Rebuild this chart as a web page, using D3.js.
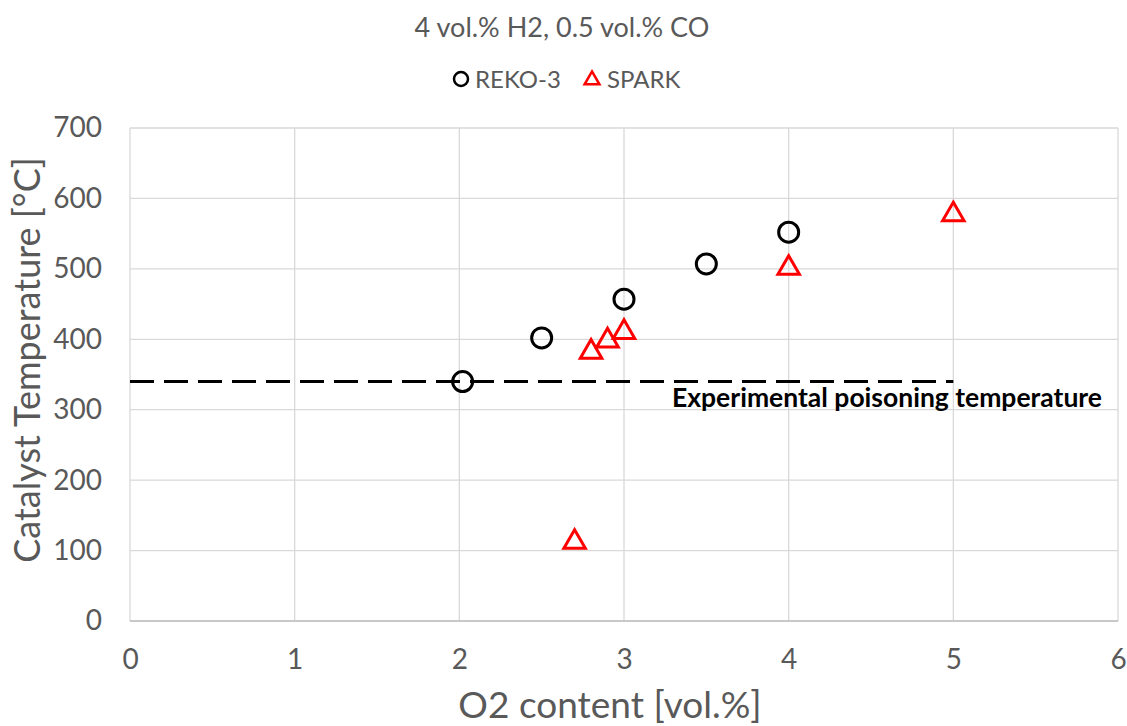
<!DOCTYPE html>
<html><head><meta charset="utf-8">
<script src="https://cdn.jsdelivr.net/npm/d3@7"></script>
<style>body{margin:0;background:#fff;}svg{display:block;}</style>
</head><body><svg id="c" width="1127" height="726"></svg>
<script>
const rekoX = [2.02, 2.5, 3.0, 3.5, 4.0];
const rekoY = [340, 402, 457, 507, 552];
const sparkX = [2.7, 2.8, 2.9, 3.0, 4.0, 5.0];
const sparkY = [112, 382, 398, 410, 501, 577];
const xTicks = [0,1,2,3,4,5,6];
const yTicks = [0,100,200,300,400,500,600,700];
const poisonTemp = 340, poisonX = [0, 5];
const title = "4 vol.% H2, 0.5 vol.% CO";
const seriesNames = ["REKO-3", "SPARK"];

const svg = d3.select("#c");
const font = "Lato, 'Open Sans', sans-serif";
const L=130, R=1118, T=128, B=621;
const x = d3.scaleLinear().domain([0,6]).range([L,R]);
const y = d3.scaleLinear().domain([0,700]).range([B,T]);
const grey="#595959", grid="#d9d9d9";

svg.append("g").selectAll("line").data(yTicks).join("line")
  .attr("x1",L).attr("x2",R).attr("y1",d=>y(d)).attr("y2",d=>y(d))
  .attr("stroke",grid).attr("stroke-width",1.3);
svg.append("g").selectAll("line").data(xTicks).join("line")
  .attr("y1",T).attr("y2",B).attr("x1",d=>x(d)).attr("x2",d=>x(d))
  .attr("stroke",grid).attr("stroke-width",1.3);

const xa = svg.append("g").attr("transform",`translate(0,${B})`)
  .call(d3.axisBottom(x).tickValues(xTicks).tickFormat(d3.format("d")).tickSize(0).tickPadding(28));
const ya = svg.append("g").attr("transform",`translate(${L},0)`)
  .call(d3.axisLeft(y).tickValues(yTicks).tickFormat(d3.format("d")).tickSize(0).tickPadding(28));
[xa,ya].forEach(a=>{a.select(".domain").remove();
  a.selectAll("text").attr("fill",grey).style("font-family",font).style("font-size","28px");});
svg.append("line").attr("x1",L).attr("x2",R).attr("y1",B).attr("y2",B).attr("stroke","#bfbfbf").attr("stroke-width",1.3);

svg.append("line").attr("x1",x(poisonX[0])).attr("x2",x(poisonX[1]))
  .attr("y1",y(poisonTemp)).attr("y2",y(poisonTemp))
  .attr("stroke","#000").attr("stroke-width",3).attr("stroke-dasharray","24,10");
svg.append("text").attr("x",1102).attr("y",y(poisonTemp)+25).attr("text-anchor","end")
  .style("font-family",font).style("font-weight","bold").style("font-size","26.5px")
  .attr("fill","#000").text("Experimental poisoning temperature");

const reko = rekoX.map((d,i)=>({x:d,y:rekoY[i]}));
const spark = sparkX.map((d,i)=>({x:d,y:sparkY[i]}));
svg.append("g").selectAll("circle").data(reko).join("circle")
  .attr("cx",d=>x(d.x)).attr("cy",d=>y(d.y)).attr("r",10)
  .attr("fill","none").attr("stroke","#000").attr("stroke-width",3);
const tri = d3.symbol().type(d3.symbolTriangle).size(200);
svg.append("g").selectAll("path").data(spark).join("path")
  .attr("d",tri).attr("transform",d=>`translate(${x(d.x)},${y(d.y)})`)
  .attr("fill","none").attr("stroke","#ff0000").attr("stroke-width",3);

svg.append("text").attr("x",562).attr("y",37).attr("text-anchor","middle")
  .style("font-family",font).style("font-size","27px").attr("fill",grey).text(title);
svg.append("text").attr("x",610).attr("y",718).attr("text-anchor","middle")
  .style("font-family",font).style("font-size","37px").attr("fill",grey).text("O2 content [vol.%]");
svg.append("text").attr("transform","translate(40,360) rotate(-90)").attr("text-anchor","middle")
  .style("font-family",font).style("font-size","36px").attr("fill",grey).text("Catalyst Temperature [°C]");

svg.append("circle").attr("cx",461).attr("cy",79).attr("r",7).attr("fill","none").attr("stroke","#000").attr("stroke-width",2.5);
svg.append("text").attr("x",475).attr("y",88).style("font-family",font).style("font-size","24px").attr("fill",grey).text(seriesNames[0]);
svg.append("path").attr("d",d3.symbol().type(d3.symbolTriangle).size(95)).attr("transform","translate(592,80)")
  .attr("fill","none").attr("stroke","#ff0000").attr("stroke-width",2.5);
svg.append("text").attr("x",607).attr("y",88).style("font-family",font).style("font-size","24px").attr("fill",grey).text(seriesNames[1]);
</script></body></html>
